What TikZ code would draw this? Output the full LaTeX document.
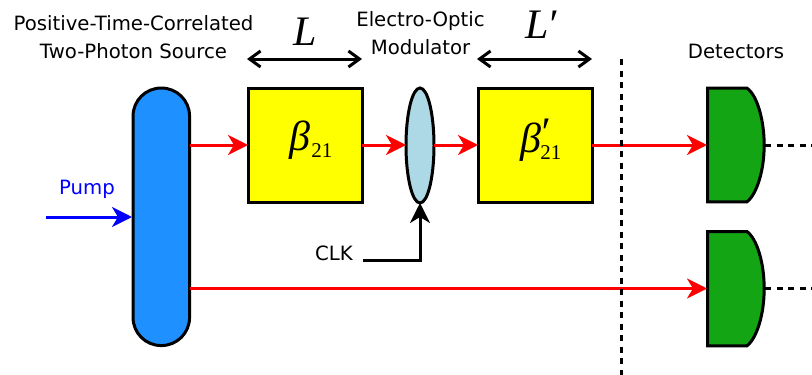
\documentclass[tikz,border=0pt]{standalone}
\usepackage{fontspec}
\setmainfont{DejaVu Sans}
\newfontfamily\timesf{Liberation Serif}
\usetikzlibrary{arrows.meta,shapes.geometric}
\definecolor{srcblue}{RGB}{30,144,255}
\definecolor{detgreen}{RGB}{20,165,20}
\definecolor{lensblue}{RGB}{173,216,230}
\definecolor{boxyellow}{RGB}{255,255,0}
\definecolor{purered}{RGB}{255,0,0}
\definecolor{pureblue}{RGB}{0,0,255}
\newcommand{\bigsym}[1]{{\timesf\itshape\fontsize{42}{42}\selectfont #1}}
\newcommand{\betasym}[1]{{\timesf\fontsize{42}{42}\selectfont\textit{β}#1\hspace{1pt}\raisebox{-7pt}{\fontsize{21}{21}\selectfont 21}}}
\tikzset{
  lbl/.style={font=\fontsize{19.7}{28.5}\selectfont,align=center,inner sep=0pt},
  sym/.style={inner sep=0pt},
  boxy/.style={draw=black,line width=3pt,fill=boxyellow,minimum width=114pt,minimum height=114pt,inner sep=0pt,outer sep=0pt},
  src/.style={draw=black,line width=3pt,fill=srcblue,minimum width=56.5pt,minimum height=257.5pt,rounded corners=28pt,inner sep=0pt,outer sep=0pt},
  lens/.style={ellipse,draw=black,line width=3pt,fill=lensblue,minimum width=28pt,minimum height=115pt,inner sep=0pt,outer sep=0pt},
  det/.style={draw=black,line width=3pt,fill=detgreen,line join=miter},
  beam/.style={draw=purered,line width=3pt,-{Stealth[length=20pt,width=20pt,inset=6pt]}},
  pumpline/.style={draw=pureblue,line width=3pt,-{Stealth[length=20pt,width=20pt,inset=6pt]}},
  span/.style={draw=black,line width=3pt,{Straight Barb[length=11pt,width=16pt]}-{Straight Barb[length=11pt,width=16pt]}},
  clkline/.style={draw=black,line width=3pt,-{Stealth[length=20pt,width=20pt,inset=6pt]}},
  dots/.style={draw=black,line width=3pt,dash pattern=on 6pt off 5.5pt},
}
\begin{document}
\begin{tikzpicture}[x=1pt,y=-1pt]
\useasboundingbox (0,0) rectangle (812,375);
% elements
\node[src] (source) at (161.3,216.8) {};
\node[boxy] (b1) at (305,145.2) {};
\node[boxy] (b2) at (535,145.2) {};
\node[lens] (eom) at (420,145.5) {};
\draw[det] (707.5,88.2) -- (747,88.2) .. controls (757,95) and (764.2,120) .. (764.2,145) .. controls (764.2,170) and (757,194) .. (747,201.8) -- (707.5,201.8) -- cycle;
\draw[det] (707.5,231.5) -- (747,231.5) .. controls (757,239) and (764.2,263) .. (764.2,288.5) .. controls (764.2,314) and (757,338) .. (747,345.8) -- (707.5,345.8) -- cycle;
\coordinate (d1in) at (707,145);
\coordinate (d1out) at (765,145);
\coordinate (d2in) at (707,288.5);
\coordinate (d2out) at (765,288.5);
\coordinate (e1) at (812,145);
\coordinate (e2) at (812,288.5);
\coordinate (s1) at (source.east |- d1in);
\coordinate (s2) at (source.east |- d2in);
\coordinate (pumpstart) at (46,217);
\coordinate (pumpend) at (132,217);
\coordinate (clkstart) at (362.5,260);
\coordinate (v1) at (621,59);
\coordinate (v2) at (621,375);
\coordinate (l1a) at (247,59);
\coordinate (l1b) at (362,59);
\coordinate (l2a) at (477,59);
\coordinate (l2b) at (592,59);
% beams
\draw[beam] (s1) -- (b1.west |- d1in);
\draw[beam] (b1.east |- d1in) -- (eom.west |- d1in);
\draw[beam] (eom.east |- d1in) -- (b2.west |- d1in);
\draw[beam] (b2.east |- d1in) -- (d1in);
\draw[beam] (s2) -- (d2in);
\draw[pumpline] (pumpstart) -- (pumpend);
\draw[clkline] (clkstart) -| (eom.south);
\draw[dots] (v1) -- (v2);
\draw[dots] (d1out) -- (e1);
\draw[dots] (d2out) -- (e2);
\draw[span] (l1a) -- (l1b);
\draw[span] (l2a) -- (l2b);
% labels
\node[lbl] (t1) at (133.5,37) {Positive-Time-Correlated\\Two-Photon Source};
\node[lbl] (t2) at (420.5,33) {Electro-Optic\\Modulator};
\node[lbl] (t3) at (736,51.5) {Detectors};
\node[lbl,text=pureblue,anchor=center] (t4) at (87,189) {Pump};
\node[lbl,anchor=center] (t5) at (334,253) {CLK};
\node[sym] (t6) at (305,32) {\bigsym{L}};
\node[sym] (t7) at (541,25) {\bigsym{L\hspace{-2pt}′}};
\node[sym] (t8) at (311,140) {\betasym{}};
\node[sym] (t9) at (541,140) {\betasym{\hspace{-2pt}\rlap{\raisebox{6pt}{\textit{′}}}}};
\end{tikzpicture}
\end{document}
